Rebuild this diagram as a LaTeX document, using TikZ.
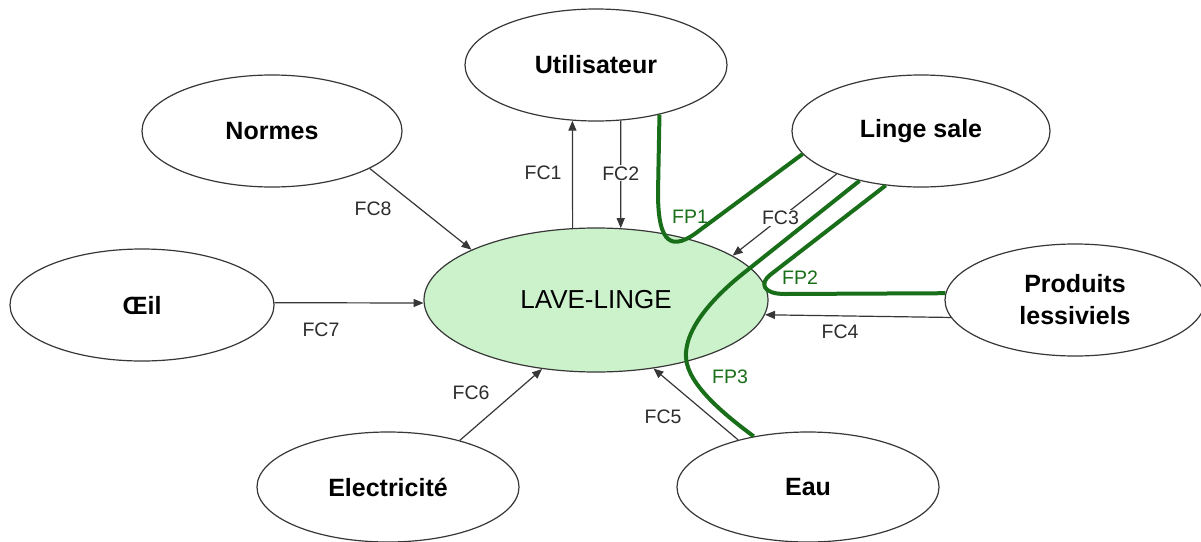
\documentclass[tikz,border=0pt]{standalone}
\usepackage{fontspec}
\setmainfont{Liberation Sans}
\usetikzlibrary{shapes.geometric,arrows.meta}
\definecolor{fpgreen}{RGB}{25,110,25}
\definecolor{lavefill}{RGB}{204,242,204}
\definecolor{edgegray}{RGB}{55,55,55}
\definecolor{lbltext}{RGB}{45,45,45}
\begin{document}
\begin{tikzpicture}[x=1pt,y=-1pt,
  ell/.style={ellipse, draw=edgegray, line width=1.2pt, fill=white, inner sep=0pt,
    minimum width=262pt, minimum height=112pt,
    font=\fontsize{25}{32}\selectfont\bfseries, align=center},
  fc/.style={draw=edgegray, line width=1.2pt, -{Triangle[length=10pt,width=8pt]}},
  fp/.style={draw=fpgreen, line width=4pt},
  lbl/.style={font=\fontsize{19.5}{22}\selectfont, text=lbltext, inner sep=1pt},
  fplbl/.style={lbl, text=fpgreen}]
\fill[white] (0,0) rectangle (1201,541);
\useasboundingbox (0,0) rectangle (1201,541);

% nodes
\node[ell, fill=lavefill, minimum width=344pt, minimum height=144pt,
      font=\fontsize{26}{32}\selectfont] (lave) at (596,300) {LAVE-LINGE};
\node[ell] (util) at (596,65) {Utilisateur};
\node[ell, minimum width=260pt] (normes) at (272,131) {Normes};
\node[ell, minimum width=258pt] (linge) at (921,131) {Linge sale};
\node[ell, minimum width=264pt] (oeil) at (142,305) {Œil};
\node[ell, minimum width=260pt] (prod) at (1075,300) {Produits\\lessiviels};
\node[ell, minimum height=110pt] (elec) at (388,487) {Electricité};
\node[ell, minimum height=110pt] (eau) at (808,487) {Eau};

% green principal functions
\draw[fp] (util.-38.5) -- (658,193) .. controls (658,245) and (672,252) .. (700,230) -- (linge.-169.7);
\draw[fp] (linge.-123.8) -- (770,275) .. controls (760,283) and (762,294) .. (785,294) -- (prod.177.34);
\draw[fp] (linge.-141.1) -- (745,272) .. controls (712,298) and (684,330) .. (686,358)
          .. controls (688,385) and (725,415) .. (eau.137.8);

% constraint functions
\draw[fc] (lave.108.6) -- (util.-113.55);
\draw[fc] (util.-66.45) -- node[lbl, fill=white, pos=.49] {FC2} (lave.71.4);
\draw[fc] (linge.-153.2) -- node[lbl, fill=white, pos=.54] {FC3} (lave.18.6);
\draw[fc] (prod.-172.68) -- (lave.-5.45);
\draw[fc] (eau.146.9) -- (lave.-50);
\draw[fc] (elec.33.6) -- (lave.-128.9);
\draw[fc] (oeil.1) -- (lave.181);
\draw[fc] (normes.-21.9) -- (lave.158.1);

% labels
\node[lbl] (lfc1) at (543,173) {FC1};
\node[lbl] (lfc4) at (840,332) {FC4};
\node[lbl] (lfc5) at (663,417) {FC5};
\node[lbl] (lfc6) at (471,393) {FC6};
\node[lbl] (lfc7) at (321,330) {FC7};
\node[lbl] (lfc8) at (373,209) {FC8};
\node[fplbl] (lfp1) at (690,217) {FP1};
\node[fplbl] (lfp2) at (800,278) {FP2};
\node[fplbl] (lfp3) at (730,377) {FP3};
\end{tikzpicture}
\end{document}
